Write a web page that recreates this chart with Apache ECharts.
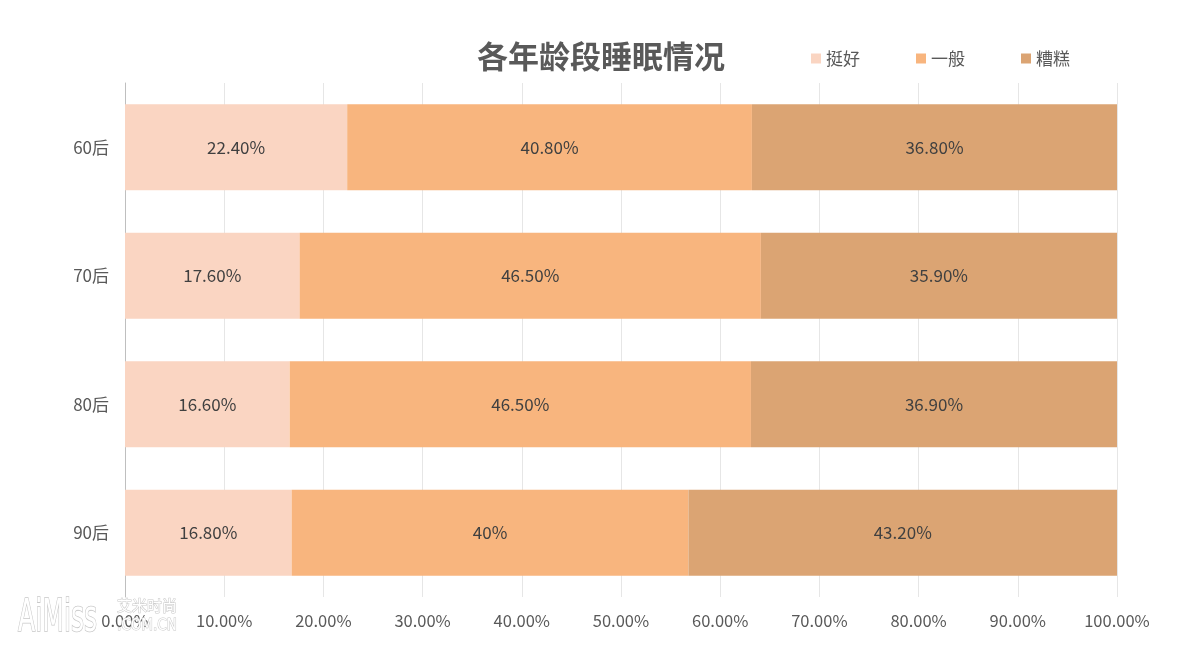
<!DOCTYPE html>
<html><head><meta charset="utf-8">
<script src="https://cdn.jsdelivr.net/npm/echarts@6/dist/echarts.min.js"></script>
<style>html,body{margin:0;padding:0;background:#fff}#c{width:1186px;height:670px}</style>
</head><body><div id="c"></div>
<script>
const categories = ['60后', '70后', '80后', '90后'];
const good = [22.4, 17.6, 16.6, 16.8];
const normal = [40.8, 46.5, 46.5, 40];
const bad = [36.8, 35.9, 36.9, 43.2];
const seriesNames = ['挺好', '一般', '糟糕'];
const colors = ['#FAD5C2', '#F8B57E', '#DBA473'];
const font = '"Noto Sans CJK SC", "Microsoft YaHei", sans-serif';

function pct(v) { return Number.isInteger(v) ? v + '%' : v.toFixed(2) + '%'; }

const chart = echarts.init(document.getElementById('c'));
const mk = (name, data, color) => ({
  name, type: 'bar', stack: 'total', data, barCategoryGap: '33%',
  itemStyle: { color },
  label: { show: true, position: 'inside', color: '#404040', fontSize: 17, fontFamily: font,
           formatter: p => pct(p.value) }
});
const wm = { fill: '#ffffff', stroke: '#c8c8c8', lineWidth: 1 };
chart.setOption({
  animation: false,
  textStyle: { fontFamily: font },
  title: { text: '各年龄段睡眠情况', left: 596, textAlign: 'center', top: 36,
           textStyle: { fontSize: 31, fontWeight: 'bold', color: '#595959', fontFamily: font } },
  legend: { left: 806, top: 45, itemWidth: 10, itemHeight: 10, itemGap: 56, icon: 'rect',
            textStyle: { fontSize: 17, color: '#595959', fontFamily: font }, data: seriesNames },
  grid: { left: 125, right: 69, top: 83, bottom: 73 },
  xAxis: { type: 'value', min: 0, max: 100, interval: 10,
           axisLine: { show: false }, axisTick: { show: false },
           splitLine: { lineStyle: { color: '#e6e6e6' } },
           axisLabel: { formatter: v => v.toFixed(2) + '%', fontSize: 16.5, color: '#595959', margin: 15, fontFamily: font } },
  yAxis: { type: 'category', data: categories, inverse: true,
           axisLine: { lineStyle: { color: '#bfbfbf' } }, axisTick: { show: false },
           axisLabel: { fontSize: 17, color: '#595959', margin: 16, fontFamily: font } },
  series: [mk(seriesNames[0], good, colors[0]), mk(seriesNames[1], normal, colors[1]), mk(seriesNames[2], bad, colors[2])],
  graphic: [
    { type: 'text', x: 18, y: 597, scaleY: 1.6, z: 100, style: Object.assign({ text: 'AiMiss', fontSize: 28, fontFamily: 'DejaVu Sans Condensed' }, wm) },
    { type: 'text', x: 117, y: 598, z: 100, style: Object.assign({ text: '艾米时尚', fontSize: 15, fontFamily: font }, wm) },
    { type: 'text', x: 117, y: 619, z: 100, style: Object.assign({ text: '.COM.CN', fontSize: 15, fontFamily: 'DejaVu Sans Condensed' }, wm) }
  ]
});
</script></body></html>
